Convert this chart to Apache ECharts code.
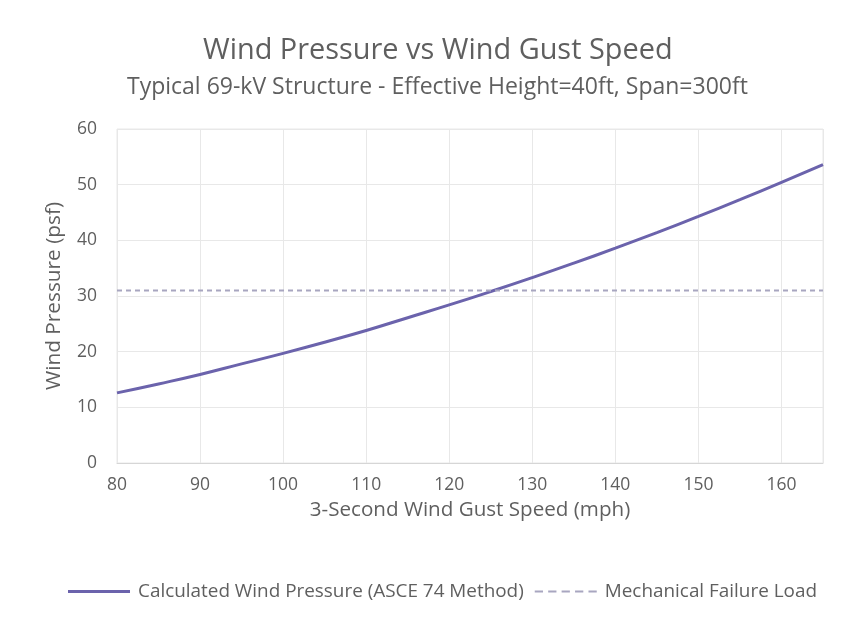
<!DOCTYPE html>
<html>
<head>
<meta charset="utf-8">
<script src="https://cdn.jsdelivr.net/npm/echarts@6/dist/echarts.min.js"></script>
<style>html,body{margin:0;padding:0;background:#fff;}#c{width:855px;height:619px;}</style>
</head>
<body>
<div id="c"></div>
<script>
const titleText = 'Wind Pressure vs Wind Gust Speed';
const subtitleText = 'Typical 69-kV Structure - Effective Height=40ft, Span=300ft';
const xAxisName = '3-Second Wind Gust Speed (mph)';
const yAxisName = 'Wind Pressure (psf)';
const seriesNames = ['Calculated Wind Pressure (ASCE 74 Method)', 'Mechanical Failure Load'];
const gustSpeed = [80, 85, 90, 95, 100, 105, 110, 115, 120, 125, 130, 135, 140, 145, 150, 155, 160, 165];
const windPressure = [12.6, 14.2, 15.9, 17.8, 19.7, 21.7, 23.8, 26.1, 28.4, 30.8, 33.3, 35.9, 38.6, 41.4, 44.3, 47.3, 50.4, 53.6];
const failureSpeed = [80, 165];
const failureLoad = [31, 31];

const font = 'Open Sans';
const txt = '#5f5f5f';
const solidIcon = 'path://M0,0 L62,0 L62,3 L0,3 Z';
const dashIcon = 'path://M0,0h8v2h-8z M13,0h8v2h-8z M26,0h8v2h-8z M39,0h8v2h-8z M52,0h8v2h-8z';
const chart = echarts.init(document.getElementById('c'), null, {renderer: 'canvas'});
chart.setOption({
  backgroundColor: '#fff',
  animation: false,
  textStyle: {fontFamily: font},
  title: [
    {text: titleText, left: 198, top: 31, textStyle: {fontFamily: font, fontSize: 28.9, fontWeight: 'normal', color: txt}},
    {text: subtitleText, left: 122, top: 71, textStyle: {fontFamily: font, fontSize: 23, fontWeight: 'normal', color: txt}}
  ],
  legend: {
    bottom: 13, left: 63, itemWidth: 62, itemHeight: 10, itemGap: 11,
    textStyle: {fontFamily: font, fontSize: 18.9, color: txt, padding: [0, 0, 0, 3]},
    data: [
      {name: seriesNames[0], icon: solidIcon},
      {name: seriesNames[1], icon: dashIcon}
    ]
  },
  grid: {left: 117, right: 32, top: 129, bottom: 156, containLabel: false, show: true, borderColor: '#e8e8e8', borderWidth: 1},
  xAxis: {
    type: 'value', min: 80, max: 165, interval: 10,
    name: xAxisName, nameLocation: 'middle', nameGap: 37,
    nameTextStyle: {fontFamily: font, fontSize: 20.6, color: txt},
    axisLine: {show: true, lineStyle: {color: '#d6d6d6', width: 1}},
    axisTick: {show: false},
    axisLabel: {fontFamily: font, fontSize: 17.5, color: txt, margin: 13, showMaxLabel: false},
    splitLine: {show: true, lineStyle: {color: '#e8e8e8', width: 1}}
  },
  yAxis: {
    type: 'value', min: 0, max: 60, interval: 10,
    name: yAxisName, nameLocation: 'middle', nameGap: 52,
    nameTextStyle: {fontFamily: font, fontSize: 20.8, color: txt},
    axisLine: {show: false},
    axisTick: {show: false},
    axisLabel: {fontFamily: font, fontSize: 17.5, color: txt, margin: 20},
    splitLine: {show: true, lineStyle: {color: '#e8e8e8', width: 1}}
  },
  series: [
    {
      name: seriesNames[0], type: 'line', symbol: 'none', smooth: true,
      data: gustSpeed.map((x, i) => [x, windPressure[i]]),
      lineStyle: {color: '#6b63ac', width: 3},
      itemStyle: {color: '#6b63ac'}
    },
    {
      name: seriesNames[1], type: 'line', symbol: 'none',
      data: failureSpeed.map((x, i) => [x, failureLoad[i]]),
      lineStyle: {color: '#a8a6c0', width: 2, type: [5, 4]},
      itemStyle: {color: '#a8a6c0'}
    }
  ]
});
</script>
</body>
</html>
